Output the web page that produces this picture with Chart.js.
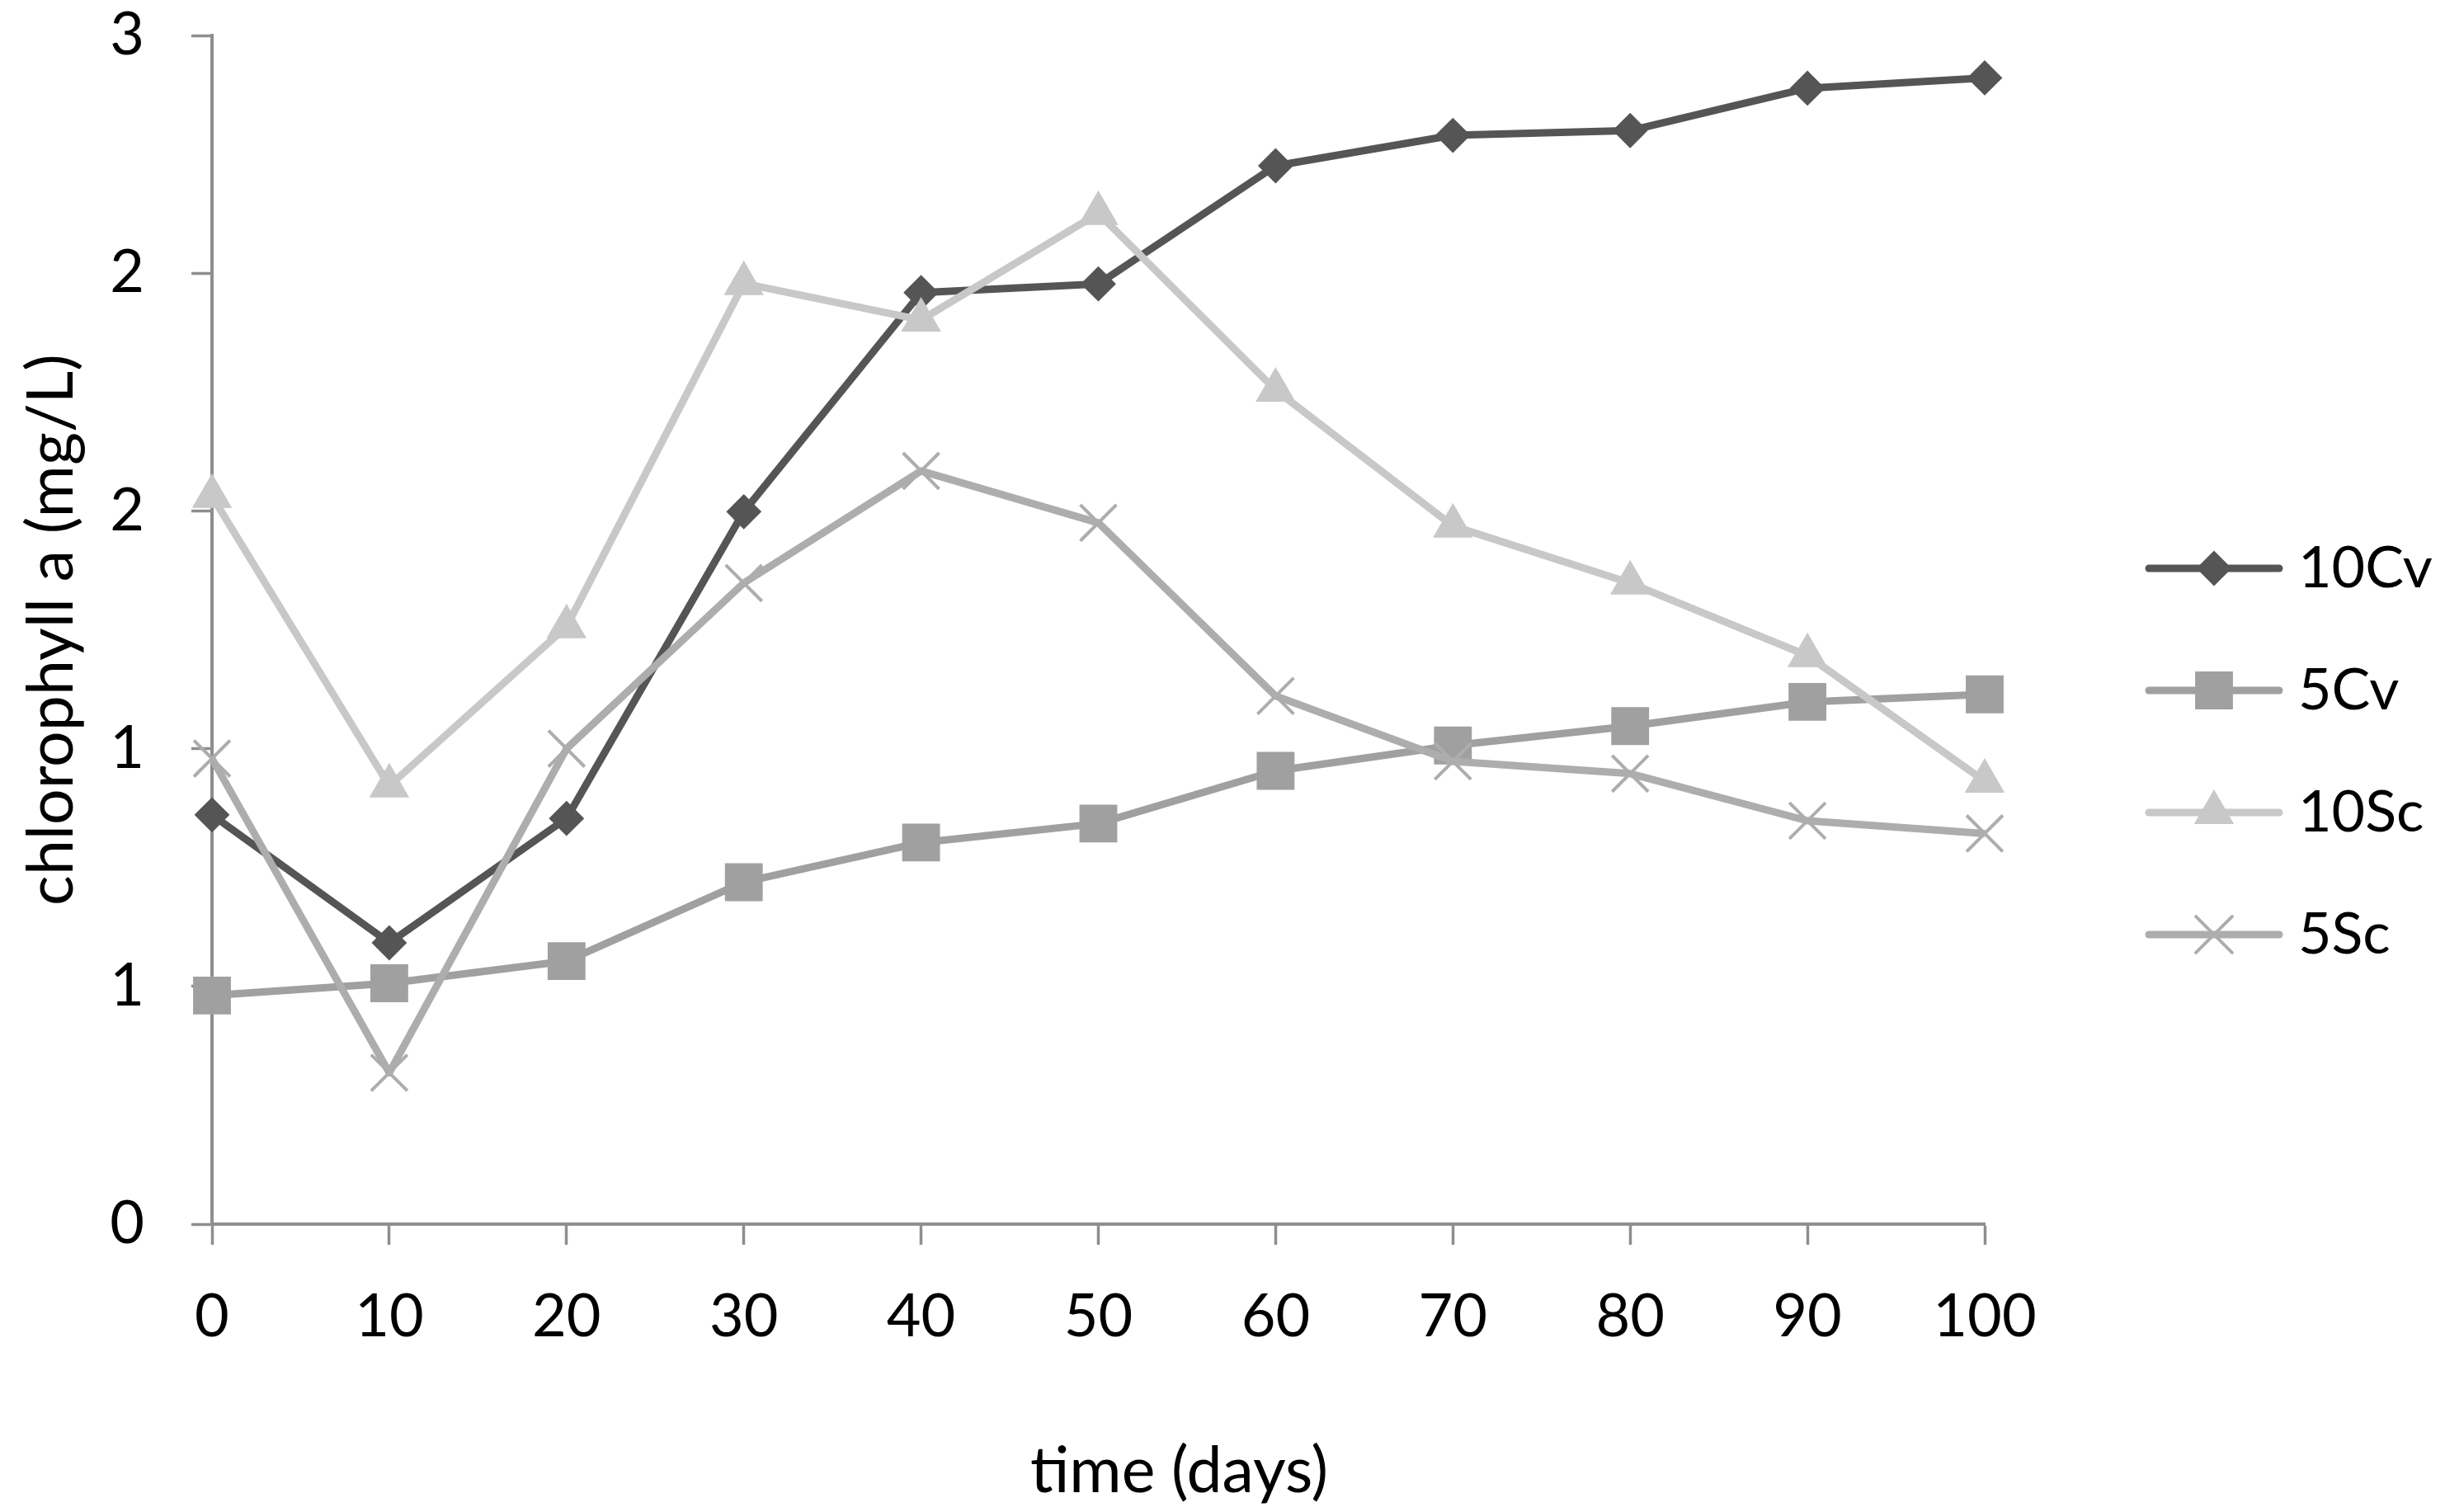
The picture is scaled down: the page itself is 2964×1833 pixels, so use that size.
<!DOCTYPE html>
<html>
<head>
<meta charset="utf-8">
<script src="https://cdn.jsdelivr.net/npm/chart.js@4.4.1/dist/chart.umd.min.js"></script>
<style>
  html, body { margin: 0; padding: 0; background: #fff; }
  #wrap { width: 2964px; height: 1833px; position: relative; }
</style>
</head>
<body>
<div id="wrap"><canvas id="myChart"></canvas></div>
<script>
// datos
let days = ['0', '10', '20', '30', '40', '50', '60', '70', '80', '90', '100'];
let serieNames = ['10Cv', '5Cv', '10Sc', '5Sc'];
let cv10 = [1.033, 0.710, 1.024, 1.798, 2.351, 2.373, 2.671, 2.748, 2.760, 2.867, 2.893];
let cv5 = [0.577, 0.608, 0.664, 0.863, 0.963, 1.011, 1.144, 1.208, 1.257, 1.318, 1.337];
let sc10 = [1.837, 1.106, 1.508, 2.374, 2.282, 2.551, 2.105, 1.762, 1.618, 1.435, 1.118];
let sc5 = [1.175, 0.382, 1.200, 1.618, 1.901, 1.770, 1.333, 1.168, 1.137, 1.018, 0.986];
let yTickLabels = ['0', '1', '1', '2', '2', '3'];

let colores = ['#555555', '#a0a0a0', '#c8c8c8', '#adadad'];
let estilos = ['rectRot', 'rect', 'triangle', 'crossRot'];
let radios = [20, 31, 26, 31];
let bordes = [2, 2, 2, 4];
let gris = '#8e8e8e';
let fuente = 'Lato';

Chart.defaults.font.family = fuente;
Chart.defaults.color = '#000';

//dibuja un marcador en un canvas suelto (solo para los iconos de la leyenda)
function drawMarker(ctx, estilo, x, y, r, color, bw) {
  ctx.fillStyle = color;
  ctx.strokeStyle = color;
  ctx.lineWidth = bw;
  ctx.beginPath();
  if (estilo === 'rectRot') {
    ctx.moveTo(x - r, y);
    ctx.lineTo(x, y - r);
    ctx.lineTo(x + r, y);
    ctx.lineTo(x, y + r);
    ctx.closePath();
    ctx.fill();
    ctx.stroke();
  } else if (estilo === 'rect') {
    let s = r * Math.SQRT1_2;
    ctx.rect(x - s, y - s, 2 * s, 2 * s);
    ctx.fill();
    ctx.stroke();
  } else if (estilo === 'triangle') {
    ctx.moveTo(x, y - r);
    ctx.lineTo(x + r * 0.866, y + r / 2);
    ctx.lineTo(x - r * 0.866, y + r / 2);
    ctx.closePath();
    ctx.fill();
    ctx.stroke();
  } else {
    let o = r * Math.SQRT1_2;
    ctx.moveTo(x - o, y - o);
    ctx.lineTo(x + o, y + o);
    ctx.moveTo(x + o, y - o);
    ctx.lineTo(x - o, y + o);
    ctx.stroke();
  }
}

//icono de leyenda: linea con el marcador al centro
//el lado izquierdo queda vacio para correr el icono a la derecha
function hacerIcono(i) {
  let c = document.createElement('canvas');
  c.width = 305;
  c.height = 72;
  let ctx = c.getContext('2d');
  ctx.strokeStyle = colores[i];
  ctx.lineWidth = 9;
  ctx.lineCap = 'round';
  ctx.beginPath();
  ctx.moveTo(140, 36);
  ctx.lineTo(298, 36);
  ctx.stroke();
  drawMarker(ctx, estilos[i], 219, 36, radios[i], colores[i], bordes[i]);
  return c;
}

let iconos = serieNames.map((n, i) => hacerIcono(i));
let valores = [cv10, cv5, sc10, sc5];

let datasets = serieNames.map((n, i) => ({
  label: n,
  data: valores[i],
  borderColor: colores[i],
  backgroundColor: colores[i],
  borderWidth: 9,
  borderJoinStyle: 'round',
  tension: 0,
  pointStyle: estilos[i],
  pointRadius: radios[i],
  pointHoverRadius: radios[i],
  pointBorderWidth: bordes[i],
  pointBackgroundColor: colores[i],
  pointBorderColor: colores[i],
  clip: false,
  order: serieNames.length - i // la ultima serie queda encima
}));

//titulo del eje x, corrido a la derecha como en el original
let tituloX = {
  id: 'tituloX',
  afterDraw(chart) {
    let ctx = chart.ctx;
    let xs = chart.scales.x;
    let area = chart.chartArea;
    ctx.save();
    ctx.font = '77px ' + fuente;
    ctx.fillStyle = '#000';
    ctx.textAlign = 'center';
    ctx.textBaseline = 'middle';
    ctx.fillText('time (days)', (area.left + area.right) / 2 + 98, xs.bottom - 38);
    ctx.restore();
  }
};

let graphTarget = document.getElementById('myChart');
let grafico = new Chart(graphTarget, {
  type: 'line',
  data: { labels: days, datasets: datasets },
  plugins: [tituloX],
  options: {
    responsive: true,
    maintainAspectRatio: false,
    devicePixelRatio: 1,
    animation: false,
    layout: { padding: { left: 0, right: 0, top: 0, bottom: 11 } },
    plugins: {
      tooltip: { enabled: false },
      legend: {
        position: 'right',
        align: 'center',
        labels: {
          usePointStyle: true,
          pointStyleWidth: 267,
          padding: 78,
          color: '#000',
          font: { size: 70, family: fuente },
          generateLabels: function (chart) {
            return chart.data.datasets.map((ds, i) => ({
              text: ds.label,
              pointStyle: iconos[i],
              fillStyle: colores[i],
              strokeStyle: colores[i],
              lineWidth: 0,
              hidden: false,
              datasetIndex: i
            }));
          }
        }
      }
    },
    scales: {
      x: {
        type: 'category',
        offset: false,
        grid: { display: true, drawOnChartArea: false, drawTicks: true, tickLength: 25, tickWidth: 3.5, tickColor: gris, offset: false },
        border: { display: true, color: gris, width: 4 },
        ticks: { padding: 45, color: '#000', font: { size: 72 }, maxRotation: 0, autoSkip: false },
        afterFit: function (scale) {
          scale.height = 338;
          scale.paddingRight = 558;
        }
      },
      y: {
        min: 0,
        max: 3,
        grid: { display: true, drawOnChartArea: false, drawTicks: true, tickLength: 25, tickWidth: 3.5, tickColor: gris },
        border: { display: true, color: gris, width: 4 },
        ticks: {
          stepSize: 0.6,
          padding: 57,
          color: '#000',
          font: { size: 72 },
          callback: function (v, i) { return yTickLabels[i]; }
        },
        title: {
          display: true,
          text: 'chlorophyll a (mg/L)',
          color: '#000',
          font: { size: 77 },
          padding: { top: 17, bottom: 0 }
        },
        afterFit: function (scale) {
          scale.width = 257;
          scale.paddingTop = 43;
        }
      }
    }
  }
});
</script>
</body>
</html>
